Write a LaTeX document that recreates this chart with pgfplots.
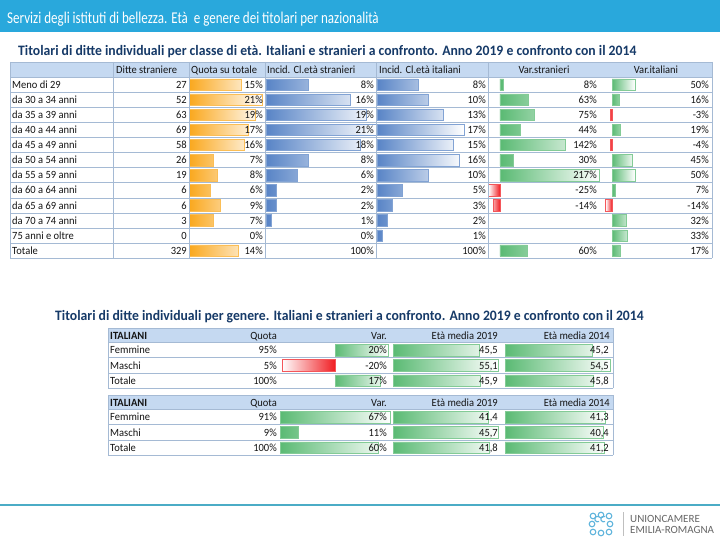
\documentclass[border=0pt]{standalone}
\usepackage{pgfplots}
\pgfplotsset{compat=1.18}
\usepackage{fontspec}
\setmainfont{Carlito}
\newfontfamily\titlefont[FakeStretch=0.79]{Carlito}
\newfontfamily\subfont[FakeStretch=0.95]{Carlito}
\newfontfamily\tabfont[FakeStretch=0.955]{Carlito}
\newfontfamily\logofont{Carlito}
\definecolor{titleblue}{RGB}{41,168,220}
\definecolor{subblue}{RGB}{22,58,104}
\definecolor{hdrfill}{RGB}{197,217,241}
\definecolor{gridc}{RGB}{165,186,212}
\definecolor{barorange}{RGB}{250,168,30}
\definecolor{barblue}{RGB}{88,132,198}
\definecolor{bargreen}{RGB}{90,186,115}
\definecolor{barred}{RGB}{240,30,35}
\definecolor{linec}{RGB}{75,172,198}
\definecolor{logoc}{RGB}{95,180,220}
\definecolor{txt}{RGB}{20,20,20}

\pgfplotsset{
  cell/.style={scale only axis, anchor=north west, hide axis, enlargelimits=false,
    clip=false, y dir=reverse, xbar, bar width=11.5pt},
  gbar/.style={xbar, bar shift=0pt, bar width=11.5pt, line width=0.5pt,
    draw=#1!75, left color=#1, right color=white},
  nbar/.style={xbar, bar shift=0pt, bar width=11.5pt, line width=0.5pt,
    draw=#1!75, left color=white, right color=#1},
}

\begin{document}
\begin{tikzpicture}
\useasboundingbox (0,0) rectangle (720pt,-540pt);
\begin{scope}[x=1pt,y=-1pt]
\fill[white] (0,0) rectangle (720,540);
\fill[titleblue] (0,0) rectangle (720,32);
\node[anchor=base west, inner sep=0, text=white, font=\titlefont\fontsize{16.5}{18}\selectfont]
  at (7,24) {Servizi degli istituti di bellezza. Età\ \ e genere dei titolari per nazionalità};
\node[anchor=base west, inner sep=0, text=subblue, font=\subfont\bfseries\fontsize{14.4}{16}\selectfont]
  at (18,56) {Titolari di ditte individuali per classe di età. Italiani e stranieri a confronto. Anno 2019 e confronto con il 2014};
\node[anchor=base west, inner sep=0, text=subblue, font=\subfont\bfseries\fontsize{14.4}{16}\selectfont]
  at (55,320) {Titolari di ditte individuali per genere. Italiani e stranieri a confronto. Anno 2019 e confronto con il 2014};
% header fills
\fill[hdrfill] (10,62) rectangle (712,77);
\fill[hdrfill] (108,328) rectangle (613,342.5);
\fill[hdrfill] (108,395) rectangle (613,409.5);
% bottom line
\draw[linec, line width=2pt] (0,505) -- (720,505);
\end{scope}

% ---------- Table 1 bars ----------
\begin{axis}[cell, at={(189.5pt,-77pt)}, width=75pt, height=181.2pt,
  xmin=0, xmax=21.74, ymin=-0.5, ymax=11.5]
\addplot[gbar=barorange] coordinates {(15,0)(21,1)(19,2)(17,3)(16,4)(7,5)(8,6)(6,7)(9,8)(7,9)(14,11)};
\end{axis}
\begin{axis}[cell, at={(266pt,-77pt)}, width=110pt, height=181.2pt,
  xmin=0, xmax=20.95, ymin=-0.5, ymax=11.5]
\addplot[gbar=barblue] coordinates {(8,0)(16,1)(19,2)(21,3)(18,4)(8,5)(6,6)(2,7)(2,8)(1,9)};
\end{axis}
\begin{axis}[cell, at={(377pt,-77pt)}, width=110pt, height=181.2pt,
  xmin=0, xmax=21.5, ymin=-0.5, ymax=11.5]
\addplot[gbar=barblue] coordinates {(8,0)(10,1)(13,2)(17,3)(15,4)(16,5)(10,6)(5,7)(3,8)(2,9)(1,10)};
\end{axis}
\begin{axis}[cell, at={(488pt,-77pt)}, width=112pt, height=181.2pt,
  xmin=-26.3, xmax=219.3, ymin=-0.5, ymax=11.5]
\addplot[gbar=bargreen] coordinates {(8,0)(63,1)(75,2)(44,3)(142,4)(30,5)(217,6)(60,11)};
\addplot[nbar=barred] coordinates {(-25,7)(-14,8)};
\end{axis}
\begin{axis}[cell, at={(600pt,-77pt)}, width=112pt, height=181.2pt,
  xmin=-26.3, xmax=219.3, ymin=-0.5, ymax=11.5]
\addplot[gbar=bargreen] coordinates {(50,0)(16,1)(19,3)(45,5)(50,6)(7,7)(32,9)(33,10)(17,11)};
\addplot[nbar=barred] coordinates {(-3,2)(-4,4)(-14,8)};
\end{axis}

% ---------- Table 2 block 1 ----------
\begin{axis}[cell, at={(280pt,-342.5pt)}, width=110pt, height=45.6pt,
  xmin=-20.75, xmax=20.75, ymin=-0.5, ymax=2.5]
\addplot[gbar=bargreen] coordinates {(20,0)(17,2)};
\addplot[nbar=barred] coordinates {(-20,1)};
\end{axis}
\begin{axis}[cell, at={(393pt,-342.5pt)}, width=107pt, height=45.6pt,
  xmin=0, xmax=56.2, ymin=-0.5, ymax=2.5]
\addplot[gbar=bargreen] coordinates {(45.5,0)(55.1,1)(45.9,2)};
\end{axis}
\begin{axis}[cell, at={(505pt,-342.5pt)}, width=107pt, height=45.6pt,
  xmin=0, xmax=55.6, ymin=-0.5, ymax=2.5]
\addplot[gbar=bargreen] coordinates {(45.2,0)(54.5,1)(45.8,2)};
\end{axis}
% ---------- Table 2 block 2 ----------
\begin{axis}[cell, at={(280pt,-409.5pt)}, width=110pt, height=45.6pt,
  xmin=0, xmax=67, ymin=-0.5, ymax=2.5]
\addplot[gbar=bargreen] coordinates {(67,0)(11,1)(60,2)};
\end{axis}
\begin{axis}[cell, at={(393pt,-409.5pt)}, width=107pt, height=45.6pt,
  xmin=0, xmax=46.6, ymin=-0.5, ymax=2.5]
\addplot[gbar=bargreen] coordinates {(41.4,0)(45.7,1)(41.8,2)};
\end{axis}
\begin{axis}[cell, at={(505pt,-409.5pt)}, width=107pt, height=45.6pt,
  xmin=0, xmax=44.2, ymin=-0.5, ymax=2.5]
\addplot[gbar=bargreen] coordinates {(41.3,0)(40.4,1)(41.2,2)};
\end{axis}

\begin{scope}[x=1pt,y=-1pt]
% grid lines table 1
\foreach \r in {0,...,13}{\draw[gridc, line width=0.5pt] (10,{62+ifthenelse(\r==0,0,15+15.1*(\r-1))}) -- (712,{62+ifthenelse(\r==0,0,15+15.1*(\r-1))});}
\foreach \xx in {10,113,189,265,376,488,712}{\draw[gridc, line width=0.5pt] (\xx,62) -- (\xx,258.2);}
% grid lines table 2
\foreach \yy in {328,342.5,357.7,372.9,388.1,395,409.5,424.7,439.9,455.1}{\draw[gridc, line width=0.5pt] (108,\yy) -- (613,\yy);}
\foreach \xx in {108,613}{\draw[gridc, line width=0.5pt] (\xx,328) -- (\xx,388.1); \draw[gridc, line width=0.5pt] (\xx,395) -- (\xx,455.1);}

\tikzset{tl/.style={anchor=base west, inner sep=0, text=txt, font=\tabfont\fontsize{11}{12}\selectfont},
         tr/.style={anchor=base east, inner sep=0, text=txt, font=\tabfont\fontsize{11}{12}\selectfont},
         tc/.style={anchor=base, inner sep=0, text=txt, font=\tabfont\fontsize{11}{12}\selectfont}}
% header table 1
\node[tl] at (116,73.2) {Ditte straniere};
\node[tl] at (191,73.2) {Quota su totale};
\node[tl] at (267,73.2) {Incid. Cl.età stranieri};
\node[tl] at (379,73.2) {Incid. Cl.età italiani};
\node[tc] at (544,73.2) {Var.stranieri};
\node[tc] at (656,73.2) {Var.italiani};
% rows table 1
\foreach \lab/\d/\q/\s/\t/\vs/\vi [count=\i from 0] in {
  Meno di 29/27/15/8/8/8\%/50\%,
  da 30 a 34 anni/52/21/16/10/63\%/16\%,
  da 35 a 39 anni/63/19/19/13/75\%/-3\%,
  da 40 a 44 anni/69/17/21/17/44\%/19\%,
  da 45 a 49 anni/58/16/18/15/142\%/-4\%,
  da 50 a 54 anni/26/7/8/16/30\%/45\%,
  da 55 a 59 anni/19/8/6/10/217\%/50\%,
  da 60 a 64 anni/6/6/2/5/-25\%/7\%,
  da 65 a 69 anni/6/9/2/3/-14\%/-14\%,
  da 70 a 74 anni/3/7/1/2/{}/32\%,
  75 anni e oltre/0/0/0/1/{}/33\%,
  Totale/329/14/100/100/60\%/17\%}{
  \node[tl] at (12,{88.3+15.1*\i}) {\lab};
  \node[tr] at (187,{88.3+15.1*\i}) {\d};
  \node[tr] at (263,{88.3+15.1*\i}) {\q\%};
  \node[tr] at (374,{88.3+15.1*\i}) {\s\%};
  \node[tr] at (486,{88.3+15.1*\i}) {\t\%};
  \node[tr] at (597,{88.3+15.1*\i}) {\vs};
  \node[tr] at (709,{88.3+15.1*\i}) {\vi};
}
% table 2 headers
\foreach \yb in {339,406}{
  \node[tl] at (110,\yb) {\bfseries ITALIANI};
  \node[tr] at (277,\yb) {Quota};
  \node[tr] at (387,\yb) {Var.};
  \node[tr] at (498,\yb) {Età media 2019};
  \node[tr] at (610,\yb) {Età media 2014};
}
\foreach \lab/\q/\v/\a/\b [count=\i from 0] in {
  Femmine/95\%/20\%/{45,5}/{45,2},
  Maschi/5\%/-20\%/{55,1}/{54,5},
  Totale/100\%/17\%/{45,9}/{45,8}}{
  \node[tl] at (110,{353.8+15.2*\i}) {\lab};
  \node[tr] at (277,{353.8+15.2*\i}) {\q};
  \node[tr] at (387,{353.8+15.2*\i}) {\v};
  \node[tr] at (498,{353.8+15.2*\i}) {\a};
  \node[tr] at (609,{353.8+15.2*\i}) {\b};
}
\foreach \lab/\q/\v/\a/\b [count=\i from 0] in {
  Femmine/91\%/67\%/{41,4}/{41,3},
  Maschi/9\%/11\%/{45,7}/{40,4},
  Totale/100\%/60\%/{41,8}/{41,2}}{
  \node[tl] at (110,{420.8+15.2*\i}) {\lab};
  \node[tr] at (277,{420.8+15.2*\i}) {\q};
  \node[tr] at (387,{420.8+15.2*\i}) {\v};
  \node[tr] at (498,{420.8+15.2*\i}) {\a};
  \node[tr] at (609,{420.8+15.2*\i}) {\b};
}
% logo
\foreach \cx/\cy in {593/516,601/515,609/516,592/524,610/524,593/532,601/533,609/532}{
  \draw[logoc, line width=1.1pt] (\cx,\cy) circle (2.8);
}
\draw[logoc, line width=1.1pt] (599,521.5) arc (60:300:2.8);
\draw[logoc, line width=1.1pt] (605,521.5) arc (60:300:2.8);
\draw[gray!50, line width=0.6pt] (623,512) -- (623,536);
\node[anchor=base west, inner sep=0, text=gray!80!black, font=\logofont\fontsize{11}{12}\selectfont] at (630,522.5) {UNIONCAMERE};
\node[anchor=base west, inner sep=0, text=gray!80!black, font=\logofont\fontsize{11}{12}\selectfont] at (630,533.5) {EMILIA-ROMAGNA};
\end{scope}
\end{tikzpicture}
\end{document}
